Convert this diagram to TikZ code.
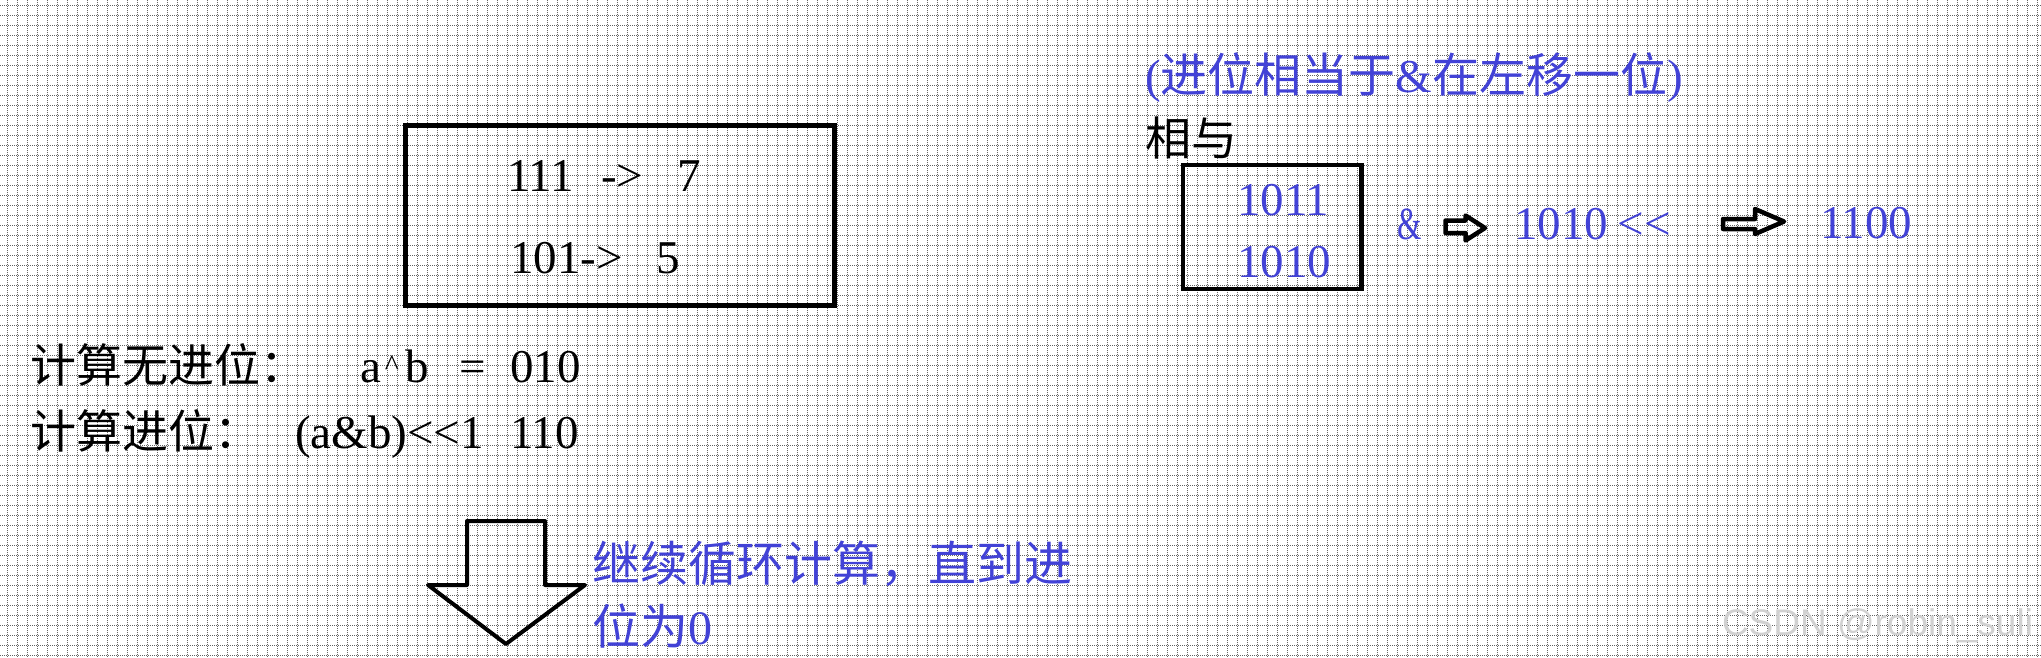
\documentclass[tikz,border=0pt]{standalone}
\usepackage{fontspec}
\usepackage{graphicx}
\setmainfont{Liberation Serif}[Ligatures=NoCommon]
\newfontfamily\cjk{Noto Sans CJK SC}
\newfontfamily\wmfont{Liberation Sans}
\definecolor{ink}{RGB}{66,66,214}
\definecolor{gridc}{RGB}{100,100,100}
\newcommand{\setfs}[1]{\fontsize{#1pt}{#1pt}\selectfont}
\begin{document}
\begin{tikzpicture}[x=1pt,y=-1pt,
  gridline/.style={gridc, line width=1pt, dash pattern=on 1pt off 1pt},
  frame/.style={draw=black, line width=5pt, inner sep=0pt, outer sep=0pt},
  blockarrow/.style={draw=black, line width=4.5pt, line join=round},
  txt/.style={anchor=base west, inner sep=0pt, outer sep=0pt},
  ]
\useasboundingbox (0,0) rectangle (2041,657);
\fill[white] (0,0) rectangle (2041,657);
% grid
\foreach \i in {0,...,203} { \draw[gridline] (7+10*\i,0) -- (7+10*\i,657); }
\foreach \j in {0,...,65} { \draw[gridline] (0,5+10*\j) -- (2041,5+10*\j); }

% box 1
\node[frame, minimum width=428.7pt, minimum height=179.2pt] (box1) at (620.15,215.4) {};
\node[txt] (t1) at (507,191) {\setfs{47}111\hspace{27pt}->\hspace{34pt}7};
\node[txt] (t2) at (510,273) {\setfs{47}101->\hspace{34pt}5};

% rows
\node[txt] (l1) at (30,382) {\setfs{46}\cjk 计算无进位：};
\node[txt] (f1) at (360,382) {\setfs{47}a\hspace{4pt}\raisebox{7pt}{\setfs{30}\textasciicircum}\hspace{7pt}b\hspace{30pt}=};
\node[txt] (v1) at (510,382) {\setfs{47}010};
\node[txt] (l2) at (30,448) {\setfs{46}\cjk 计算进位：};
\node[txt] (f2) at (295,448) {\setfs{47}(a\&b){<}{<}1};
\node[txt] (v2) at (510,448) {\setfs{47}110};

% down arrow
\draw[blockarrow, line width=4pt] (467,521) -- (545,521) -- (545,585) -- (585,585) -- (506,644) -- (428,585) -- (467,585) -- cycle;
\node[txt, ink] (cont1) at (592,581) {\setfs{48}\cjk 继续循环计算，直到进};
\node[txt, ink] (cont2) at (592,644) {\setfs{48}{\cjk 位为}0};

% right part
\node[txt, ink] (note) at (1145,92) {\setfs{47}({\cjk 进位相当于}\&{\cjk 在左移一位})};
\node[txt] (xiangyu) at (1145,155) {\setfs{46}\cjk 相与};
\node[frame, line width=4.5pt, minimum width=178.9pt, minimum height=123.6pt] (box2) at (1272.25,227) {};
\node[txt, ink] (b1) at (1237,215) {\setfs{47}1011};
\node[txt, ink] (b2) at (1237,277) {\setfs{47}1010};
\node[txt, ink] (amp) at (1397,239) {\setfs{46}\scalebox{0.68}[1]{\&}};
\draw[blockarrow] (1445.5,220.5) -- (1465.5,220.5) -- (1465.5,215.5) -- (1485,228) -- (1465.5,240.5) -- (1465.5,233) -- (1445.5,233) -- cycle;
\node[txt, ink] (shl) at (1514,239) {\setfs{47}1010\hspace{10pt}{<}{<}};
\draw[blockarrow] (1723,219) -- (1755,219) -- (1755,209) -- (1784,221.5) -- (1755,234) -- (1755,229) -- (1723,229) -- cycle;
\node[txt, ink] (res) at (1820,238) {\setfs{47}1100};

% watermark
\node[txt, black!18] (wm) at (1722,635) {\setfs{37}\wmfont CSDN @robin\_suli};
\end{tikzpicture}
\end{document}
